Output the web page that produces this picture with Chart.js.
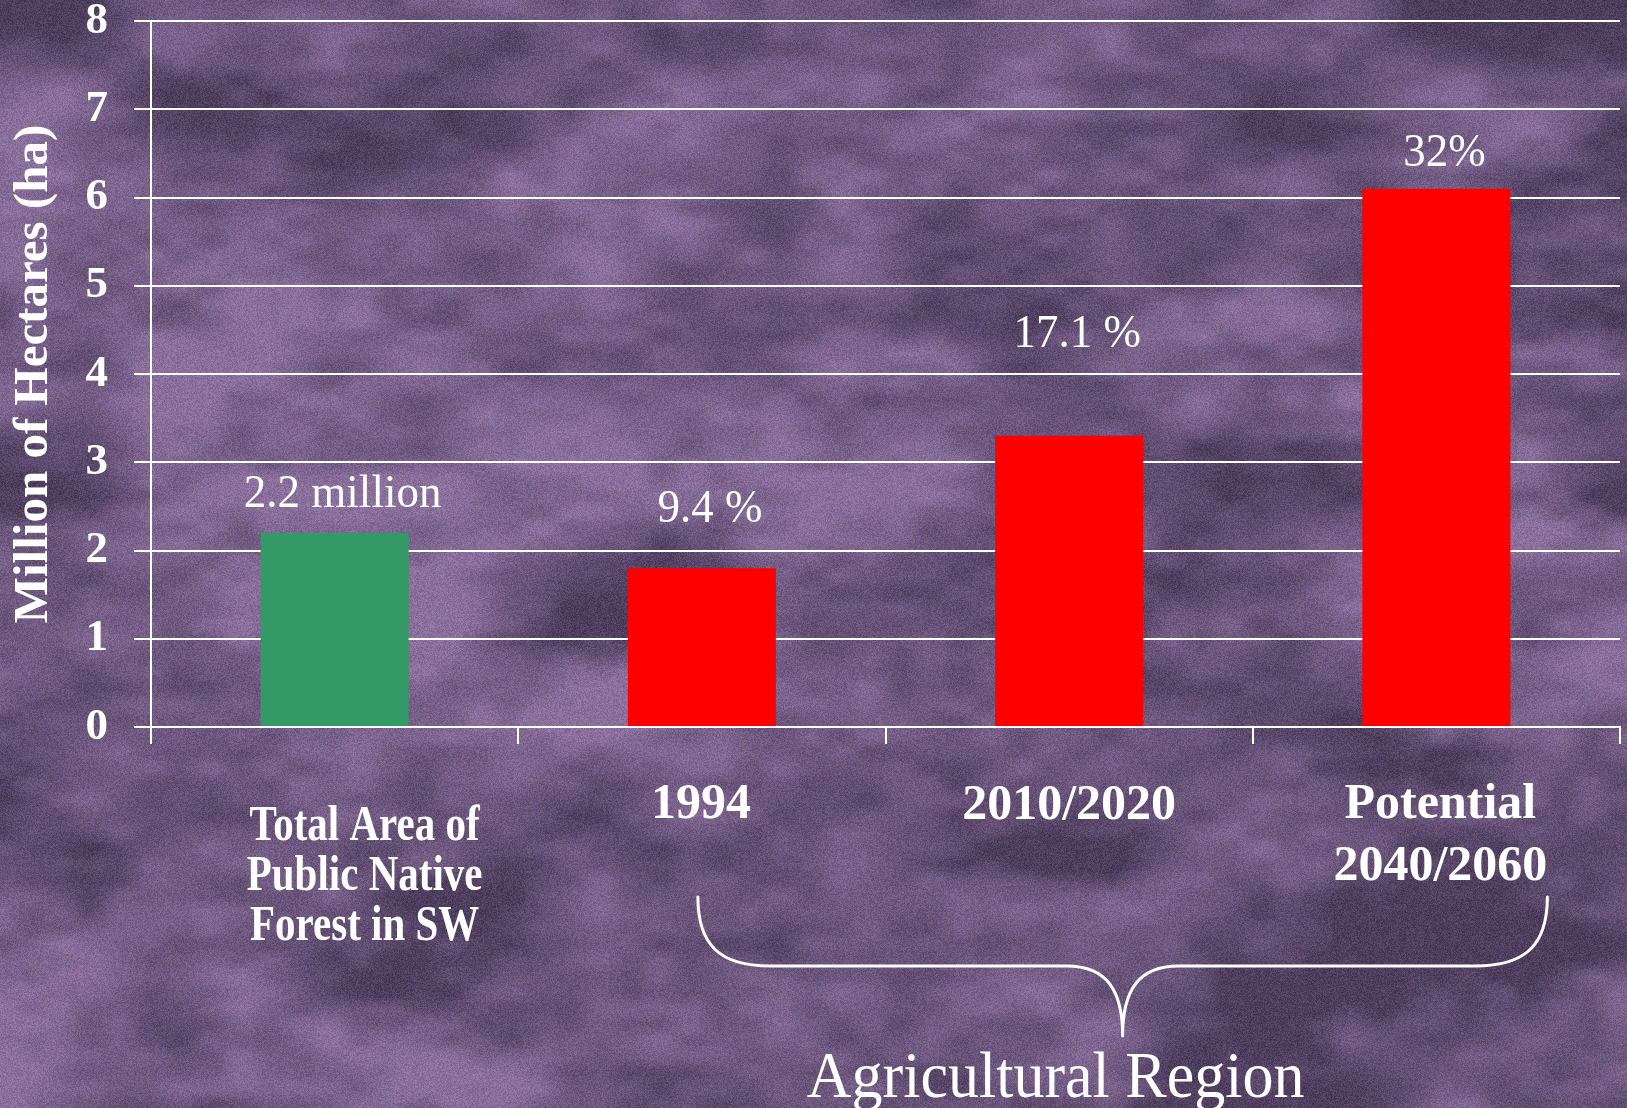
<!DOCTYPE html>
<html><head><meta charset="utf-8">
<script src="https://cdn.jsdelivr.net/npm/chart.js@4/dist/chart.umd.min.js"></script>
<style>html,body{margin:0;padding:0;background:#6a5680;overflow:hidden}canvas{display:block}</style>
</head><body>
<canvas id="c" width="1627" height="1108"></canvas>
<script>
// ---- data ----
const categories = [["Total Area of","Public Native","Forest in SW"], ["1994"], ["2010/2020"], ["Potential","2040/2060"]];
const areaValues = [2.2, 1.8, 3.3, 6.1];
const valueLabels = ["2.2 million", "9.4 %", "17.1 %", "32%"];
const barColors = ["#339966", "#ff0000", "#ff0000", "#ff0000"];
const yTickValues = [0, 1, 2, 3, 4, 5, 6, 7, 8];
const yTitle = "Million of Hectares (ha)";
const groupLabel = "Agricultural Region";
const groupRange = [1, 3];

const SERIF = '"Liberation Serif", "Times New Roman", serif';

// ---- background texture (deterministic) ----
let bgCache = null;
function makeBackground(w, h) {
  const cv = document.createElement('canvas'); cv.width = w; cv.height = h;
  const g = cv.getContext('2d');
  let s = 987654321;
  const rnd = () => { s = (Math.imul(s, 1664525) + 1013904223) >>> 0; return s / 4294967296; };
  function grid(cw, ch) {
    const gw = Math.ceil(w / cw) + 2, gh = Math.ceil(h / ch) + 2;
    const a = new Float32Array(gw * gh);
    for (let i = 0; i < a.length; i++) a[i] = rnd();
    return { gw, gh, a, cw, ch };
  }
  const sm = t => t * t * (3 - 2 * t);
  function sample(G, x, y) {
    const fx = x / G.cw, fy = y / G.ch;
    const ix = Math.floor(fx), iy = Math.floor(fy);
    const tx = sm(fx - ix), ty = sm(fy - iy);
    const a = G.a, gw = G.gw;
    const v00 = a[iy * gw + ix], v10 = a[iy * gw + ix + 1];
    const v01 = a[(iy + 1) * gw + ix], v11 = a[(iy + 1) * gw + ix + 1];
    return (v00 * (1 - tx) + v10 * tx) * (1 - ty) + (v01 * (1 - tx) + v11 * tx) * ty;
  }
  const G1 = grid(210, 120), G2 = grid(85, 45), G3 = grid(30, 16);
  const img = g.createImageData(w, h);
  const d = img.data;
  const dark = [78, 62, 94], light = [138, 112, 156];
  let p = 0;
  for (let y = 0; y < h; y++) {
    for (let x = 0; x < w; x++) {
      let v = 0.5 * sample(G1, x, y) + 0.32 * sample(G2, x, y) + 0.18 * sample(G3, x, y);
      let t = (v - 0.5) * 2.1 + 0.45;
      t = t < 0 ? 0 : t > 1 ? 1 : t;
      const n = (rnd() - 0.5) * 30;
      const nb = (rnd() - 0.5) * 16;
      d[p]     = dark[0] + (light[0] - dark[0]) * t + n;
      d[p + 1] = dark[1] + (light[1] - dark[1]) * t + n + nb * 0.5;
      d[p + 2] = dark[2] + (light[2] - dark[2]) * t + n + nb;
      d[p + 3] = 255;
      p += 4;
    }
  }
  g.putImageData(img, 0, 0);
  return cv;
}

// ---- decoration plugin ----
const decor = {
  id: 'decor',
  beforeDraw(chart) {
    if (!bgCache) bgCache = makeBackground(chart.width, chart.height);
    chart.ctx.drawImage(bgCache, 0, 0);
  },
  afterDatasetsDraw(chart, args, opts) {
    const ctx = chart.ctx;
    const meta = chart.getDatasetMeta(0);
    ctx.save();
    ctx.fillStyle = '#ffffff';
    ctx.font = opts.valueFontSize + 'px ' + SERIF;
    ctx.textAlign = 'center';
    ctx.textBaseline = 'alphabetic';
    meta.data.forEach((bar, i) => {
      ctx.save();
      ctx.translate(bar.x + opts.valueDx, bar.y - opts.valueRise[i]);
      ctx.scale(1, opts.valueSy);
      ctx.fillText(valueLabels[i], 0, 0);
      ctx.restore();
    });
    ctx.restore();
  },
  afterDraw(chart, args, opts) {
    const ctx = chart.ctx;
    const xs = chart.scales.x;
    const bottom = chart.chartArea.bottom;
    ctx.save();
    ctx.fillStyle = '#ffffff';
    ctx.textAlign = 'center';
    ctx.textBaseline = 'alphabetic';
    // category labels
    chart.data.labels.forEach((lab, i) => {
      const st = opts.catStyle[i];
      const lines = Array.isArray(lab) ? lab : [lab];
      const cx = xs.getPixelForValue(i) + st.dx;
      ctx.font = 'bold ' + st.size + 'px ' + SERIF;
      lines.forEach((ln, k) => {
        const by = bottom + st.first + k * st.lh;
        ctx.save();
        ctx.translate(cx, by);
        ctx.scale(1, st.sy);
        ctx.fillText(ln, 0, 0);
        ctx.restore();
      });
    });
    // brace
    const x1 = xs.getPixelForValue(groupRange[0]) + opts.brace.dl;
    const x2 = xs.getPixelForValue(groupRange[1]) + opts.brace.dr;
    const mid = (x1 + x2) / 2;
    const ty = bottom + opts.brace.top, hy = bottom + opts.brace.h, cy = bottom + opts.brace.cusp;
    ctx.strokeStyle = '#ffffff';
    ctx.lineWidth = 3;
    ctx.lineCap = 'round';
    ctx.beginPath();
    ctx.moveTo(x1, ty);
    ctx.bezierCurveTo(x1, ty + 48, x1 + 22, hy, x1 + 72, hy);
    ctx.lineTo(mid - 56, hy);
    ctx.bezierCurveTo(mid - 16, hy, mid, hy + 24, mid, cy);
    ctx.moveTo(mid, cy);
    ctx.bezierCurveTo(mid, hy + 24, mid + 16, hy, mid + 56, hy);
    ctx.lineTo(x2 - 72, hy);
    ctx.bezierCurveTo(x2 - 22, hy, x2, ty + 48, x2, ty);
    ctx.stroke();
    // group label
    ctx.font = opts.groupFontSize + 'px ' + SERIF;
    ctx.save();
    ctx.translate(mid + opts.groupDx, bottom + opts.groupBase);
    ctx.scale(1, 1.05);
    ctx.fillText(groupLabel, 0, 0);
    ctx.restore();
    ctx.restore();
  }
};

new Chart(document.getElementById('c'), {
  type: 'bar',
  data: {
    labels: categories,
    datasets: [{
      data: areaValues,
      backgroundColor: barColors,
      borderWidth: 0,
      barPercentage: 0.403,
      categoryPercentage: 1.0
    }]
  },
  plugins: [decor],
  options: {
    responsive: false,
    animation: false,
    events: [],
    layout: { padding: { top: 21, right: 7, left: 0, bottom: 0 } },
    plugins: {
      legend: { display: false },
      tooltip: { enabled: false },
      decor: {
        valueFontSize: 45,
        valueSy: 1.05,
        valueDx: 8,
        valueRise: [26, 46, 89, 23],
        catStyle: [
          { dx: 30, first: 113, lh: 50, size: 41, sy: 1.22 },
          { dx: -1, first: 91, lh: 62, size: 50, sy: 1.03 },
          { dx: 0, first: 92, lh: 62, size: 50, sy: 1.03 },
          { dx: 4, first: 91, lh: 62, size: 50, sy: 1.03 }
        ],
        brace: { dl: -4, dr: 111, top: 170, h: 239, cusp: 309 },
        groupFontSize: 62,
        groupDx: -67,
        groupBase: 370
      }
    },
    scales: {
      x: {
        offset: true,
        grid: { display: true, offset: true, drawOnChartArea: false, drawTicks: true, tickLength: 17, color: '#ffffff', lineWidth: 2 },
        border: { display: true, color: '#ffffff', width: 2 },
        ticks: { display: false },
        afterFit: (sc) => { sc.height = 381; sc.paddingLeft = 0; sc.paddingRight = 0; }
      },
      y: {
        min: 0, max: 8,
        afterBuildTicks: (sc) => { sc.ticks = yTickValues.map(v => ({ value: v })); },
        grid: { color: '#ffffff', lineWidth: 2, drawTicks: true, tickLength: 17 },
        border: { display: true, color: '#ffffff', width: 2 },
        ticks: { color: '#ffffff', padding: 26, font: { family: SERIF, size: 45, weight: 'bold', lineHeight: 1 } },
        title: { display: true, text: yTitle, color: '#ffffff', padding: { top: 5, bottom: 0 }, font: { family: SERIF, size: 49, weight: 'bold', lineHeight: 1.2 } },
        afterFit: (sc) => { sc.width = 151; sc.paddingTop = 0; sc.paddingBottom = 0; }
      }
    }
  }
});
</script>
</body></html>
